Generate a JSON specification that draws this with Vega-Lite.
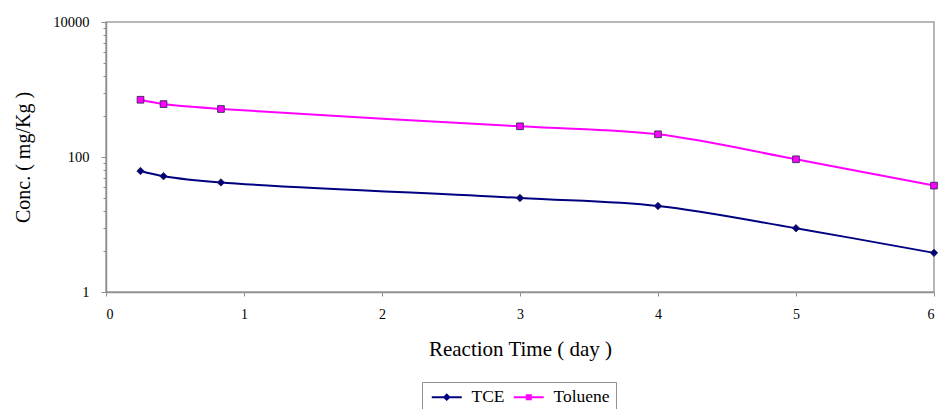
{
  "$schema": "https://vega.github.io/schema/vega-lite/v6.json",
  "autosize": "none",
  "width": 828,
  "height": 270,
  "padding": {"left": 106, "top": 22, "right": 4, "bottom": 117},
  "background": "white",
  "config": {
    "view": {"stroke": "#a0a0a0", "strokeWidth": 1.5},
    "font": "Liberation Serif"
  },
  "data": {
    "values": [
      {"series": "TCE", "day": 0.25, "conc": 62},
      {"series": "TCE", "day": 0.417, "conc": 52},
      {"series": "TCE", "day": 0.833, "conc": 42},
      {"series": "TCE", "day": 3, "conc": 24.7},
      {"series": "TCE", "day": 4, "conc": 18.8},
      {"series": "TCE", "day": 5, "conc": 8.8},
      {"series": "TCE", "day": 6, "conc": 3.8},
      {"series": "Toluene", "day": 0.25, "conc": 705},
      {"series": "Toluene", "day": 0.417, "conc": 608},
      {"series": "Toluene", "day": 0.833, "conc": 514},
      {"series": "Toluene", "day": 3, "conc": 285},
      {"series": "Toluene", "day": 4, "conc": 217},
      {"series": "Toluene", "day": 5, "conc": 92.5},
      {"series": "Toluene", "day": 6, "conc": 37.7}
    ]
  },
  "encoding": {
    "x": {
      "field": "day", "type": "quantitative",
      "scale": {"domain": [0, 6], "nice": false, "zero": false},
      "axis": {
        "values": [0, 1, 2, 3, 4, 5, 6],
        "format": "d",
        "grid": false,
        "domainColor": "#909090", "domainWidth": 1.5,
        "tickColor": "#909090", "tickSize": 4,
        "labelPadding": 11,
        "labelFont": "Liberation Serif", "labelFontSize": 14, "labelColor": "#000000",
        "title": "Reaction Time ( day )",
        "titleFont": "Liberation Serif", "titleFontSize": 21, "titleFontWeight": "normal", "titleColor": "#000000",
        "titleX": 414, "titleY": 46, "titleBaseline": "top", "titleAlign": "center"
      }
    },
    "y": {
      "field": "conc", "type": "quantitative",
      "scale": {"type": "log", "domain": [1, 10000], "nice": false},
      "axis": {
        "values": [1, 4, 9, 16, 25, 36, 49, 64, 81, 100, 400, 900, 1600, 2500, 3600, 4900, 6400, 8100, 10000],
        "format": "d",
        "labelExpr": "datum.value == 1 || datum.value == 100 || datum.value == 10000 ? datum.label : ''",
        "labelOverlap": false,
        "labelBound": false,
        "grid": false,
        "domainColor": "#909090", "domainWidth": 1.5,
        "tickColor": "#909090",
        "tickSize": {"condition": {"test": "datum.value == 1 || datum.value == 100 || datum.value == 10000", "value": 5}, "value": 3},
        "labelPadding": 12,
        "labelFont": "Liberation Serif", "labelFontSize": 14.5, "labelColor": "#000000",
        "title": "Conc. ( mg/Kg )",
        "titleFont": "Liberation Serif", "titleFontSize": 20, "titleFontWeight": "normal", "titleColor": "#000000",
        "titleX": -73, "titleY": 135, "titleAngle": -90, "titleBaseline": "bottom", "titleAlign": "center"
      }
    }
  },
  "layer": [
    {
      "mark": {"type": "line", "interpolate": "catmull-rom", "strokeWidth": 2},
      "encoding": {
        "color": {
          "field": "series", "type": "nominal",
          "scale": {"domain": ["TCE", "Toluene"], "range": ["#000080", "#FF00FF"]},
          "legend": {
            "orient": "none",
            "legendX": 316,
            "legendY": 360,
            "direction": "horizontal",
            "title": null,
            "strokeColor": "#909090",
            "padding": 6,
            "columnPadding": 4,
            "symbolSize": 100,
            "symbolStrokeWidth": 2,
            "labelFont": "Liberation Serif",
            "labelFontSize": 17.5,
            "labelColor": "#000000",
            "labelOffset": 26,
            "encode": {
              "symbols": {
                "update": {
                  "shape": {"signal": "datum.value == 'TCE' ? 'M-1,0H5M2,-0.5L2.5,0L2,0.5L1.5,0Z' : 'M-1,0H5M1.6,-0.4H2.4V0.4H1.6Z'"},
                  "fill": {"scale": "color", "field": "value"},
                  "stroke": {"scale": "color", "field": "value"},
                  "strokeWidth": {"value": 2}
                }
              }
            }
          }
        }
      }
    },
    {
      "mark": {"type": "point", "filled": true, "opacity": 1, "strokeWidth": 0.8, "stroke": "#202040"},
      "encoding": {
        "shape": {"condition": {"test": "datum.series == 'TCE'", "value": "diamond"}, "value": "square"},
        "fill": {"condition": {"test": "datum.series == 'TCE'", "value": "#000080"}, "value": "#FF00FF"},
        "size": {"condition": {"test": "datum.series == 'TCE'", "value": 55}, "value": 45}
      }
    }
  ]
}
